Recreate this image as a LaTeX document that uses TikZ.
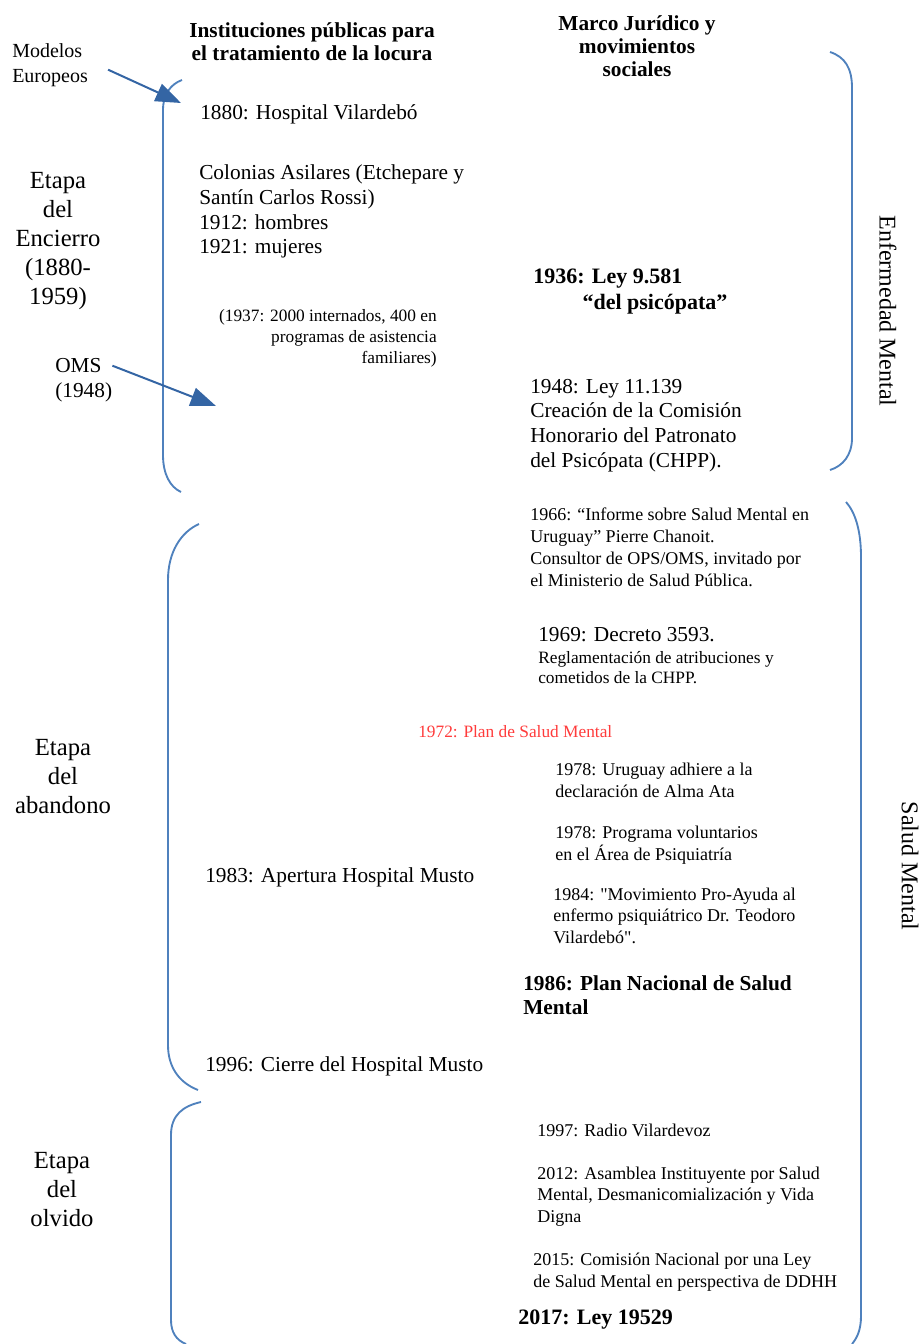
\documentclass[tikz,border=0pt]{standalone}
\usepackage{fontspec}
\setmainfont{Liberation Serif}[Ligatures=TeXOff]
\usetikzlibrary{arrows.meta}
\definecolor{bracecol}{HTML}{4F81BD}
\definecolor{ptrcol}{HTML}{3465A4}
\definecolor{planred}{HTML}{FF3B3B}

\begin{document}
\begin{tikzpicture}[x=0.75pt, y=-0.75pt, inner sep=0pt,
		lbl/.style={anchor=base west, align=left},
		body/.style={lbl, font=\fontsize{16}{18.5}\selectfont},
		small/.style={lbl, font=\fontsize{13.5}{16}\selectfont},
		etapa/.style={anchor=base, align=center, font=\fontsize{18.5}{21.75}\selectfont},
		hdr/.style={anchor=base, align=center, font=\bfseries\fontsize{16}{17.25}\selectfont},
		side/.style={rotate=-90, font=\fontsize{18}{20}\selectfont},
		brace/.style={draw=bracecol, line width=1.4pt},
		ptr/.style={-{Triangle[length=19pt, width=14pt]}, draw=ptrcol, line width=1.5pt}]
		\useasboundingbox (0, 0) rectangle (923, 1344);

		% column headers (anchored at the baseline of their last line)
		\node[hdr] (hdrA) at (312, 61) {Instituciones públicas para\\el tratamiento de la locura};
		\node[hdr] (hdrB) at (637, 77) {Marco Jurídico y\\movimientos\\sociales};

		% stages
		\node[etapa] (encierro) at (58, 305) {Etapa\\del\\Encierro\\(1880-\\1959)};
		\node[etapa] (abandono) at (63, 813) {Etapa\\del\\abandono};
		\node[etapa] (olvido) at (62, 1226) {Etapa\\del\\olvido};
		\node[side] (enf) at (888, 311) {Enfermedad Mental};
		\node[side] (salud) at (910, 866) {Salud Mental};

		% influences
		\node[lbl, font=\fontsize{15}{18.75}\selectfont] (mod) at (12, 83) {Modelos\\Europeos};
		\node[lbl, font=\fontsize{16}{18.75}\selectfont] (oms) at (55, 397) {OMS\\(1948)};
		\coordinate (mtip) at (181, 103);
		\coordinate (otip) at (216, 406);

		% public institutions
		\node[body] (h1880) at (200, 120) {1880: Hospital Vilardebó};
		\node[body] (colon) at (199, 254) {Colonias Asilares (Etchepare y\\Santín Carlos Rossi)\\1912: hombres\\1921: mujeres};
		\node[anchor=base east, align=right, font=\fontsize{13}{15.75}\selectfont] (c1937) at (437, 363)
			{(1937: 2000 internados, 400 en\\programas de asistencia\\familiares)};
		\node[lbl, text=planred, font=\fontsize{13}{16}\selectfont] (p1972) at (418, 737) {1972: Plan de Salud Mental};
		\node[body] (h1983) at (205, 882) {1983: Apertura Hospital Musto};
		\node[body] (h1996) at (205, 1071) {1996: Cierre del Hospital Musto};

		% legal framework and social movements
		\node[lbl, font=\bfseries\fontsize{16.5}{19.5}\selectfont] (l1936) at (533, 310) {1936: Ley 9.581\\\hspace*{37pt}“del psicópata”};
		\node[body] (l1948) at (530, 467) {1948: Ley 11.139\\Creación de la Comisión\\Honorario del Patronato\\del Psicópata (CHPP).};
		\node[lbl, font=\fontsize{13.5}{16.5}\selectfont] (i1966) at (530, 586) {1966: “Informe sobre Salud Mental en\\Uruguay” Pierre Chanoit.\\Consultor de OPS/OMS, invitado por\\el Ministerio de Salud Pública.};
		\node[body] (d1969) at (538, 641) {1969: Decreto 3593.};
		\node[lbl, font=\fontsize{13}{15}\selectfont] (r1969) at (538, 683) {Reglamentación de atribuciones y\\cometidos de la CHPP.};
		\node[small] (a1978) at (555, 797) {1978: Uruguay adhiere a la\\declaración de Alma Ata};
		\node[small] (v1978) at (555, 860) {1978: Programa voluntarios\\en el Área de Psiquiatría};
		\node[small] (m1984) at (553, 943) {1984: "Movimiento Pro-Ayuda al\\enfermo psiquiátrico Dr. Teodoro\\Vilardebó".};
		\node[lbl, font=\bfseries\fontsize{16}{17.5}\selectfont] (p1986) at (523, 1014) {1986: Plan Nacional de Salud\\Mental};
		\node[small] (r1997) at (537, 1136) {1997: Radio Vilardevoz};
		\node[small] (a2012) at (537, 1222) {2012: Asamblea Instituyente por Salud\\Mental, Desmanicomialización y Vida\\Digna};
		\node[small] (c2015) at (533, 1287) {2015: Comisión Nacional por una Ley\\de Salud Mental en perspectiva de DDHH};
		\node[lbl, font=\bfseries\fontsize{16.5}{19}\selectfont] (l2017) at (518, 1324) {2017: Ley 19529};

		% brackets
		\draw[brace] (182, 80) .. controls (171, 84) and (163, 94) .. (163, 110) -- (163, 455)
			.. controls (163, 474) and (170, 487) .. (181, 492);
		\draw[brace] (199, 524) .. controls (181, 532) and (168, 552) .. (168, 580) -- (168, 1045)
			.. controls (168, 1068) and (180, 1083) .. (198, 1090);
		\draw[brace] (201, 1102) .. controls (183, 1106) and (171, 1115) .. (171, 1135) -- (171, 1320)
			.. controls (171, 1332) and (176, 1340) .. (186, 1344);
		\draw[brace] (830, 52) .. controls (845, 57) and (852, 68) .. (852, 88) -- (852, 438)
			.. controls (852, 455) and (843, 466) .. (830, 470);
		\draw[brace] (846, 502) .. controls (855, 512) and (861, 530) .. (861, 557) -- (861, 1316)
			.. controls (861, 1330) and (857, 1338) .. (852, 1344);

		\path ([shift={(20, 4)}]mod.east) edge[ptr] (mtip)
			([shift={(0, -14)}]oms.east) edge[ptr] (otip);
	\end{tikzpicture}
\end{document}
